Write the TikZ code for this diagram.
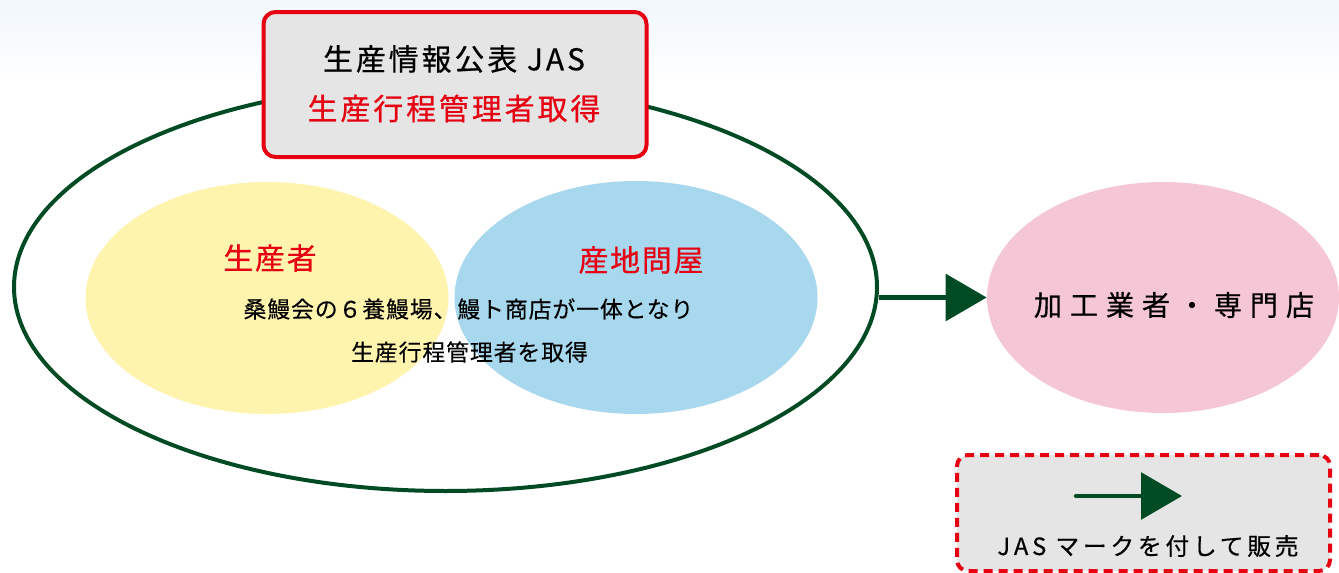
\documentclass[tikz,border=0pt]{standalone}
\usepackage{fontspec}
\newfontfamily\jptitle[LetterSpace=10,FakeBold=0.6]{Noto Sans CJK JP}
\newfontfamily\jplabel[LetterSpace=6,FakeBold=0.6]{Noto Sans CJK JP}
\newfontfamily\jpbody[LetterSpace=4,FakeBold=0.2]{Noto Sans CJK JP}
\newfontfamily\jpwide[LetterSpace=28,FakeBold=0.6]{Noto Sans CJK JP}
\newfontfamily\jpnote[LetterSpace=16,FakeBold=0.5]{Noto Sans CJK JP}
\usetikzlibrary{shapes.geometric,arrows.meta}
\definecolor{dkgreen}{RGB}{0,75,36}
\definecolor{jasred}{RGB}{230,0,18}
\definecolor{boxgray}{RGB}{229,229,229}
\definecolor{yel}{RGB}{255,244,174}
\definecolor{blu}{RGB}{168,216,238}
\definecolor{pnk}{RGB}{245,198,213}
\definecolor{bgtop}{RGB}{241,247,252}
\tikzset{
  blob/.style={ellipse, inner sep=0pt, draw=none},
  greenarrow/.style={draw=dkgreen, line width=0.09cm, -{Triangle[length=0.82cm, width=0.93cm]}, dkgreen},
  titlebox/.style={draw=jasred, line width=0.08cm, fill=boxgray, rounded corners=0.24cm, inner sep=0pt},
  notebox/.style={draw=jasred, line width=0.08cm, fill=boxgray, rounded corners=0.22cm, dash pattern=on 0.18cm off 0.12cm, inner sep=0pt},
}
\begin{document}
\begin{tikzpicture}
\useasboundingbox (0,0) rectangle (26.78,-11.46);
\shade[top color=bgtop, bottom color=white] (0,0) rectangle (26.78,-1.7);
% big ellipse
\node[ellipse, draw=dkgreen, line width=0.08cm, fill=white, minimum width=17.26cm, minimum height=8.16cm, inner sep=0pt] (big) at (8.91,-5.74) {};
% inner ellipses
\node[blob, fill=yel, minimum width=7.26cm, minimum height=4.64cm] (yellow) at (5.34,-5.96) {};
\node[blob, fill=blu, minimum width=7.26cm, minimum height=4.66cm] (blue) at (12.72,-5.95) {};
\node[blob, fill=pnk, minimum width=7.04cm, minimum height=4.62cm] (pink) at (23.26,-5.95) {};
% title box
\node[titlebox, minimum width=7.66cm, minimum height=2.9cm] (tbox) at (9.1,-1.69) {};
\node[font=\jptitle\fontsize{17}{20}\selectfont] (t1) at (9.08,-1.18) {生産情報公表 JAS};
\node[font=\jptitle\fontsize{17}{20}\selectfont, text=jasred] (t2) at (9.08,-2.17) {生産行程管理者取得};
% labels
\node[font=\jplabel\fontsize{17}{20}\selectfont, text=jasred] (lprod) at (5.4,-5.16) {生産者};
\node[font=\jplabel\fontsize{17}{20}\selectfont, text=jasred] (lwhole) at (12.82,-5.2) {産地問屋};
\node[font=\jpbody\fontsize{13}{15}\selectfont] (b1) at (9.37,-6.18) {桑鰻会の６養鰻場、鰻ト商店が一体となり};
\node[font=\jpbody\fontsize{13}{15}\selectfont] (b2) at (9.39,-7.04) {生産行程管理者を取得};
\node[font=\jpwide\fontsize{16}{19}\selectfont] (lproc) at (23.48,-6.1) {加工業者・専門店};
% main arrow
\draw[greenarrow] (big.east |- pink.west) -- (pink.west);
% note box
\node[notebox, minimum width=7.46cm, minimum height=2.32cm] (nbox) at (22.87,-10.26) {};
\coordinate (ks) at (21.52,-9.92);
\coordinate (ke) at (23.64,-9.92);
\draw[greenarrow, line cap=round] (ks) -- (ke);
\node[font=\jpnote\fontsize{13.5}{16}\selectfont] (note) at (22.96,-10.92) {JAS マークを付して販売};
\end{tikzpicture}
\end{document}
